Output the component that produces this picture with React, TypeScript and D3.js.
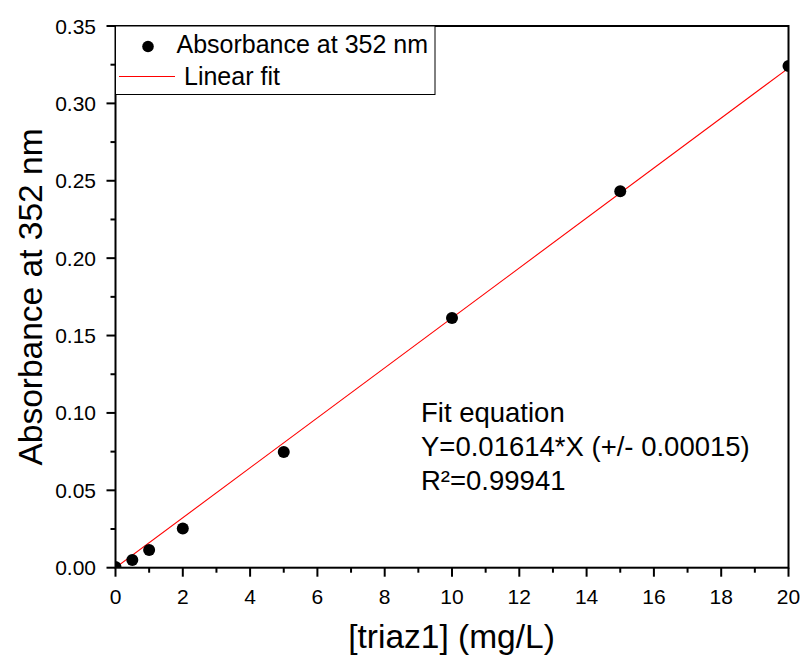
import React from "react";
import * as d3 from "d3";

const concentrations = [0, 0.5, 1, 2, 5, 10, 15, 20];
const absorbance = [0.0005, 0.005, 0.0114, 0.0254, 0.0747, 0.1613, 0.2433, 0.3241];
const fitSlope = 0.01614;
const fitRange = [0, 20];
const xTicks = [0, 2, 4, 6, 8, 10, 12, 14, 16, 18, 20];
const yTicks = [0, 0.05, 0.1, 0.15, 0.2, 0.25, 0.3, 0.35];
const equationLines = ["Fit equation", "Y=0.01614*X (+/- 0.00015)", "R\u00b2=0.99941"];
const legendLabels = ["Absorbance at 352 nm", "Linear fit"];

export default function App() {
  const W = 801, H = 662;
  const L = 115.5, R = 788.5, T = 26, B = 567.7;
  const x = d3.scaleLinear().domain([0, 20]).range([L, R]);
  const y = d3.scaleLinear().domain([0, 0.35]).range([B, T]);
  const font = "Arial, 'Liberation Sans', sans-serif";
  const xMinor = d3.range(1, 20, 2);
  const yMinor = d3.range(0.025, 0.35, 0.05);
  const line = d3.line<number>().x(d => x(d)).y(d => y(fitSlope * d));

  return (
    <svg width={W} height={H} style={{ position: "absolute", left: 0, top: 0 }} fontFamily={font}>
      <defs>
        <clipPath id="plot">
          <rect x={L} y={T} width={R - L} height={B - T} />
        </clipPath>
      </defs>
      <rect width={W} height={H} fill="white" />
      <g clipPath="url(#plot)">
        <path d={line(fitRange) || ""} stroke="#ff0000" strokeWidth={1.1} fill="none" />
        {concentrations.map((c, i) => (
          <circle key={i} cx={x(c)} cy={y(absorbance[i])} r={6} fill="black" />
        ))}
      </g>
      <rect x={L} y={T} width={R - L} height={B - T} fill="none" stroke="black" strokeWidth={2} />
      {xTicks.map(t => (
        <g key={t}>
          <line x1={x(t)} x2={x(t)} y1={B} y2={B + 9} stroke="black" strokeWidth={2} />
          <text x={x(t)} y={604} textAnchor="middle" fontSize={21}>{t}</text>
        </g>
      ))}
      {xMinor.map(t => (
        <line key={t} x1={x(t)} x2={x(t)} y1={B} y2={B + 5} stroke="black" strokeWidth={2} />
      ))}
      {yTicks.map(t => (
        <g key={t}>
          <line x1={L - 9} x2={L} y1={y(t)} y2={y(t)} stroke="black" strokeWidth={2} />
          <text x={96} y={y(t) + 7.5} textAnchor="end" fontSize={21}>{t.toFixed(2)}</text>
        </g>
      ))}
      {yMinor.map(t => (
        <line key={t} x1={L - 5} x2={L} y1={y(t)} y2={y(t)} stroke="black" strokeWidth={2} />
      ))}
      <text x={451.5} y={648} textAnchor="middle" fontSize={33.5}>[triaz1] (mg/L)</text>
      <text transform={`translate(42, 297) rotate(-90)`} textAnchor="middle" fontSize={33.5}>Absorbance at 352 nm</text>
      <rect x={L} y={T} width={435 - L} height={94.5 - T} fill="white" stroke="black" strokeWidth={1} />
      <circle cx={148} cy={46.5} r={5.8} fill="black" />
      <text x={176.5} y={53.3} fontSize={25}>{legendLabels[0]}</text>
      <line x1={119} x2={175} y1={76.5} y2={76.5} stroke="#ff0000" strokeWidth={1.1} />
      <text x={184} y={85} fontSize={25}>{legendLabels[1]}</text>
      {equationLines.map((s, i) => (
        <text key={i} x={421} y={421.7 + i * 34.2} fontSize={27.5}>{s}</text>
      ))}
    </svg>
  );
}
